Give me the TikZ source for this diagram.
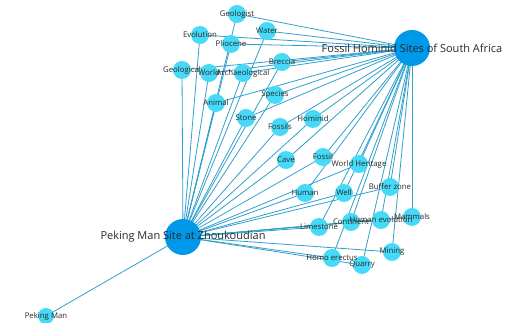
\documentclass[tikz,border=0pt]{standalone}
\usepackage{fontspec}
\setmainfont{Open Sans}
\usetikzlibrary{backgrounds}
\definecolor{hubblue}{RGB}{0,152,232}
\definecolor{kwblue}{RGB}{70,218,248}
\definecolor{edgeblue}{RGB}{48,160,204}
\definecolor{txtgray}{RGB}{40,40,40}

\begin{document}
\begin{tikzpicture}[x=1pt, y=-1pt,
		hub/.style={circle, fill=hubblue, minimum size=36pt, inner sep=0pt},
		kw/.style={circle, fill=kwblue, minimum size=18pt, inner sep=0pt},
		kwlbl/.style={text=txtgray, font=\fontsize{7.8}{9}\selectfont, inner sep=0pt},
		hublbl/.style={text=txtgray, font=\fontsize{11}{13}\selectfont, inner sep=0pt},
		link/.style={draw=edgeblue, line width=0.8pt}]
		\useasboundingbox (0,0) rectangle (512,323);
		% hubs
		\node[hub] (fh) at (412,48) {};
		\node[hub] (pm) at (183,237) {};
		\node[kw, minimum size=16pt] (pkm) at (46,316) {};
		% keywords
		\foreach \n/\x/\y in {geologist/237/14, water/267/31, evolution/200/35, pliocene/231/44,
			geological/182/70, world/209/73, archaeo/243/73, breccia/282/62, animal/216/103,
			species/275/95, stone/246/118, fossils/280/127, hominid/313/119, cave/286/160,
			fossil/323/157, worldher/359/164, human/305/193, well/344/193, buffer/390/187,
			limestone/319/227, continent/351/222, humanevo/381/220, mammals/412/217,
			mining/392/252, homo/332/258, quarry/362/265}
			\node[kw] (\n) at (\x,\y) {};
		% links
		\begin{scope}[on background layer]
			\foreach \n in {geologist, water, evolution, pliocene, geological, world, archaeo,
				breccia, animal, species, stone, fossils, hominid, cave, fossil, worldher, human,
				well, buffer, limestone, continent, humanevo, mammals, mining, homo, quarry} {
				\draw[link] (\n.center) -- (fh.center);
				\draw[link] (\n.center) -- (pm.center);
			}
			\draw[link] (pkm.center) -- (pm.center);
		\end{scope}
		% labels
		\foreach \n/\t in {geologist/Geologist, water/Water, evolution/Evolution, pliocene/Pliocene,
			geological/Geological, world/World, archaeo/Archaeological, breccia/Breccia,
			animal/Animal, species/Species, stone/Stone, fossils/Fossils, hominid/Hominid,
			cave/Cave, fossil/Fossil, worldher/World Heritage, human/Human, well/Well,
			buffer/Buffer zone, limestone/Limestone, continent/Continent,
			humanevo/Human evolution, mammals/Mammals, mining/Mining, homo/Homo erectus,
			quarry/Quarry, pkm/Peking Man}
			\node[kwlbl] at (\n) {\t};
		\node[hublbl] at (fh) {Fossil Hominid Sites of South Africa};
		\node[hublbl] at (pm) {Peking Man Site at Zhoukoudian};
	\end{tikzpicture}
\end{document}
